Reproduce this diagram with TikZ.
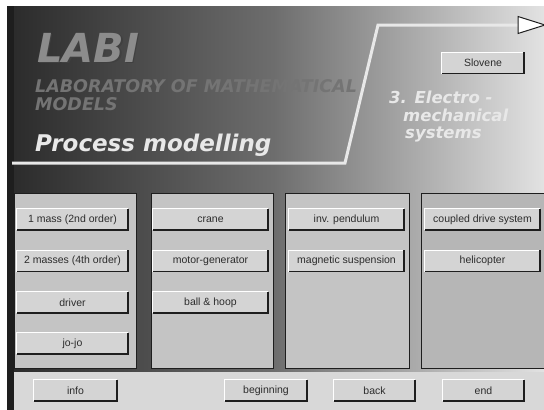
\documentclass[tikz,border=0pt]{standalone}
\usepackage{fontspec}
\setmainfont{Liberation Sans}
\newfontfamily\headfont{DejaVu Sans}
\definecolor{bgdark}{HTML}{2A2A2A}
\definecolor{bgmid}{HTML}{6E6E6E}
\definecolor{bglight}{HTML}{E2E2E2}
\definecolor{edge}{HTML}{1E1E1E}
\definecolor{panelfill}{HTML}{C4C4C4}
\definecolor{btnfill}{HTML}{D4D4D4}
\definecolor{barfill}{HTML}{D8D8D8}
\definecolor{btntext}{HTML}{2C2C2C}
\definecolor{labigray}{HTML}{8C8C8C}
\definecolor{subgray}{HTML}{747474}
\definecolor{titlewhite}{HTML}{E8E8E8}
\tikzset{
  panel/.style={draw=edge, line width=1pt, fill=panelfill, inner sep=0pt},
  btn/.style={fill=btnfill, inner sep=0pt, minimum height=21pt, text=btntext,
    font=\fontsize{10.5}{12}\selectfont},
  hilite/.style={white, line width=1pt},
  lowline/.style={edge, line width=1.5pt},
  titleline/.style={titlewhite, line width=3pt, line join=miter},
  headtext/.style={anchor=base west, inner sep=0pt},
}
% a raised push button: fill, label, light top-left and dark bottom-right edges
\newcommand\guibtn[5]{%
  \node[btn, minimum width=#4pt] (#1) at (#2,#3) {#5};
  \draw[hilite] (#1.south west) |- (#1.north east);
  \draw[lowline] (#1.south west) -| (#1.north east);
}
\begin{document}
\begin{tikzpicture}[x=1pt,y=-1pt]
\useasboundingbox (0,0) rectangle (544,410);
\fill[white] (0,0) rectangle (544,410);
\begin{scope}
\clip (0,0) rectangle (544,410);
% window background: two linear ramps, dark to mid, mid to light
\shade[left color=bgdark, right color=bgmid] (7,6) rectangle (276,410);
\shade[left color=bgmid, right color=bglight] (275,6) rectangle (544,410);
\fill[edge] (7,6) rectangle (14,410);

% header artwork
\node[headtext, text=black!75, font=\headfont\bfseries\itshape\fontsize{40}{40}\selectfont] (labishadow) at (38.5,63.5) {LABI};
\node[headtext, text=labigray, font=\headfont\bfseries\itshape\fontsize{40}{40}\selectfont] (labi) at (37,62) {LABI};
\node[headtext, text=subgray, font=\headfont\bfseries\itshape\fontsize{17.5}{17.5}\selectfont] (lab1) at (35,92) {LABORATORY OF MATHEMATICAL};
\node[headtext, text=subgray, font=\headfont\bfseries\itshape\fontsize{17.5}{17.5}\selectfont] (lab2) at (35,110) {MODELS};
\node[headtext, text=titlewhite, font=\headfont\bfseries\itshape\fontsize{23}{23}\selectfont] (title) at (35,151) {Process modelling};

\coordinate (l0) at (12,163);
\coordinate (l1) at (345,163);
\coordinate (l2) at (378,25);
\coordinate (l3) at (518,25);
\draw[titleline] (l0) -- (l1) -- (l2) -- (l3);
\filldraw[fill=white, draw=edge, line width=1pt] (518,16.5) -- (545,25) -- (518,33.5) -- cycle;

\node[headtext, text=titlewhite, font=\headfont\bfseries\itshape\fontsize{16.5}{16.5}\selectfont] (sec1) at (389,103) {3. Electro -};
\node[headtext, text=titlewhite, font=\headfont\bfseries\itshape\fontsize{16.5}{16.5}\selectfont] (sec2) at (403,121) {mechanical};
\node[headtext, text=titlewhite, font=\headfont\bfseries\itshape\fontsize{16.5}{16.5}\selectfont] (sec3) at (405,138) {systems};

\guibtn{slovene}{483}{63}{82}{Slovene}

% model panels
\node[panel, minimum width=122pt, minimum height=175pt] (p1) at (75,280.5) {};
\node[panel, minimum width=122pt, minimum height=175pt] (p2) at (212,280.5) {};
\node[panel, minimum width=124pt, minimum height=175pt] (p3) at (347,280.5) {};
\node[panel, minimum width=126pt, minimum height=175pt, fill=panelfill!93!black] (p4) at (484,280.5) {};

\guibtn{b11}{72.5}{219.5}{111}{1 mass (2nd order)}
\guibtn{b12}{72.5}{261}{111}{2 masses (4th order)}
\guibtn{b13}{72.5}{302.5}{111}{driver}
\guibtn{b14}{72.5}{343.5}{111}{jo-jo}

\guibtn{b21}{210.5}{219.5}{115}{crane}
\guibtn{b22}{210.5}{261}{115}{motor-generator}
\guibtn{b23}{210.5}{302.5}{115}{ball \& hoop}

\guibtn{b31}{346.5}{219.5}{115}{inv. pendulum}
\guibtn{b32}{346.5}{261}{115}{magnetic suspension}

\guibtn{b41}{482.5}{219.5}{115}{coupled drive system}
\guibtn{b42}{482.5}{261}{115}{helicopter}

% navigation bar
\fill[barfill] (14,372) rectangle (546,412);
\guibtn{info}{75.5}{390.5}{83}{info}
\guibtn{begin}{266}{390.5}{82}{beginning}
\guibtn{back}{374.5}{390.5}{81}{back}
\guibtn{end}{483.5}{390.5}{81}{end}
\end{scope}
\end{tikzpicture}
\end{document}
